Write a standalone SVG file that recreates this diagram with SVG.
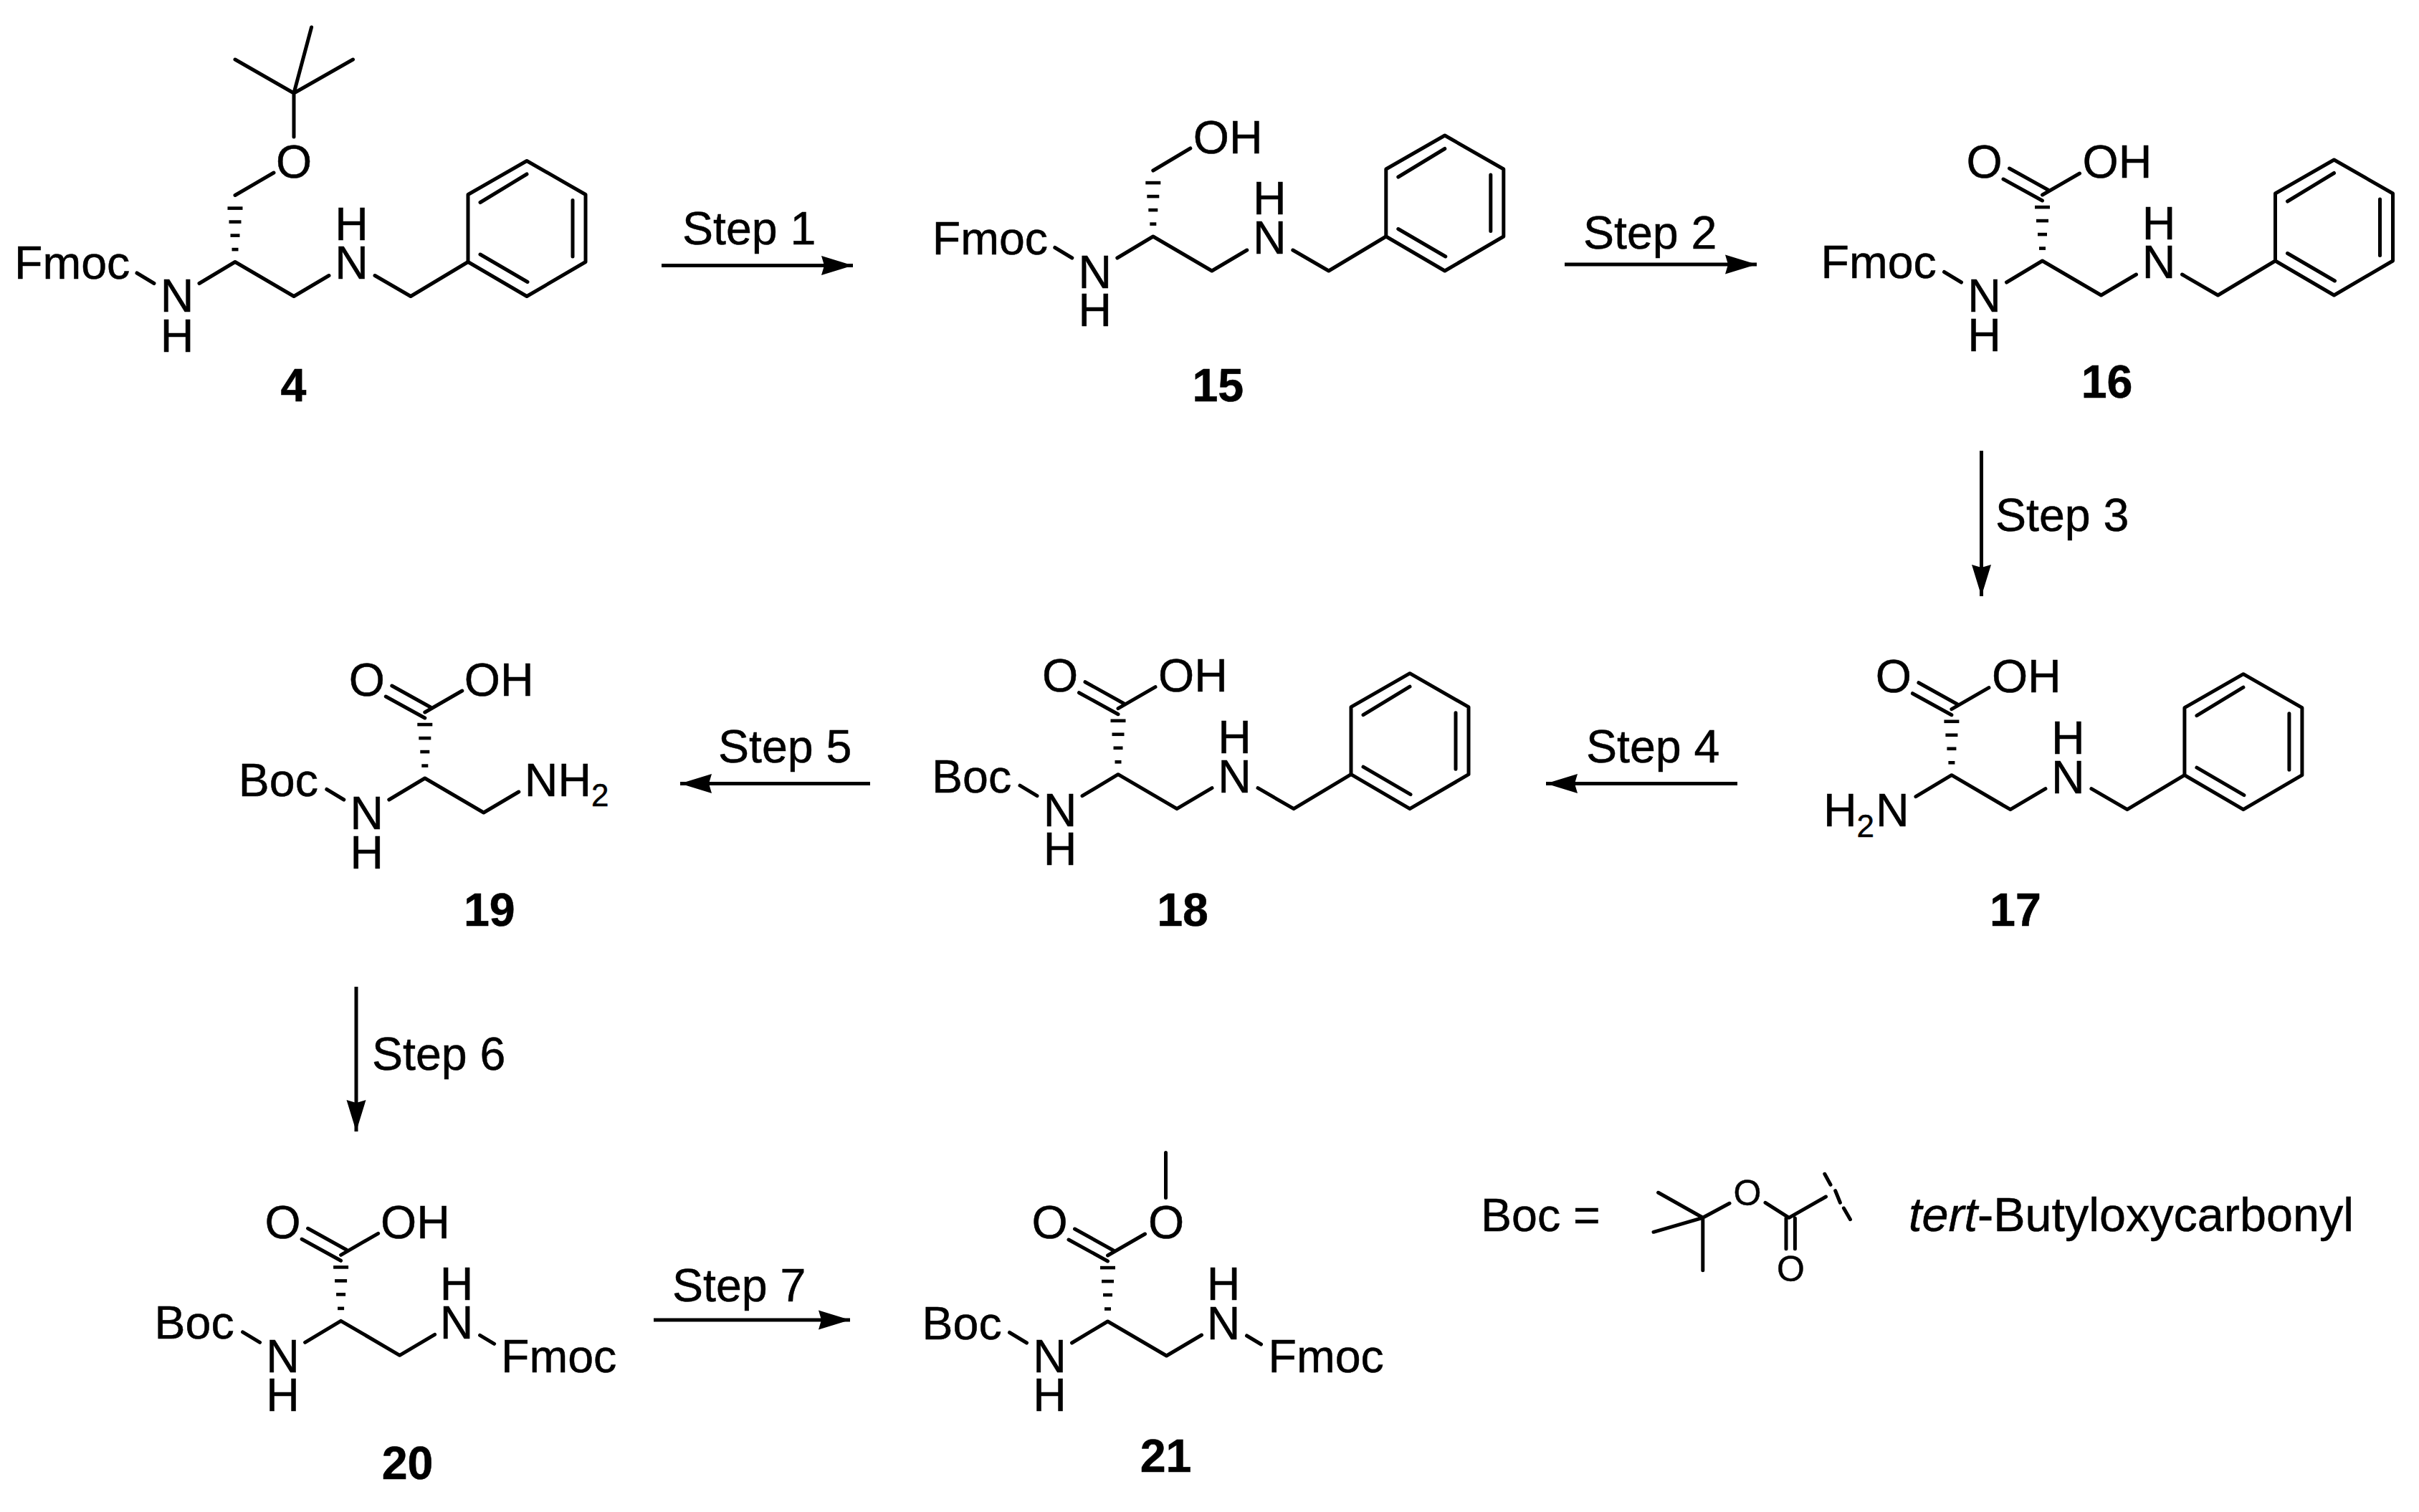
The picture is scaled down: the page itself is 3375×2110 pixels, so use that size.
<svg xmlns="http://www.w3.org/2000/svg" xmlns:xlink="http://www.w3.org/1999/xlink" width="3375" height="2110" viewBox="0 0 3375 2110">
<style>
text{font-family:"Liberation Sans",Arial,sans-serif;font-size:64.5px;fill:#000;stroke:#000;stroke-width:.5}
.m{text-anchor:middle}
.lab{font-weight:700;text-anchor:middle}
.b{fill:none;stroke:#000;stroke-width:5;stroke-linecap:round;stroke-linejoin:round}
.a{fill:none;stroke:#000;stroke-width:5}
.small{font-size:50px;text-anchor:middle}
</style>
<defs>
<marker id="head" markerUnits="userSpaceOnUse" markerWidth="45" markerHeight="30" refX="44" refY="15" orient="auto"><path d="M0,1.5 L44,15 L0,28.5 L4,15 Z" fill="#000"/></marker>
<g id="hash" fill="#000"><rect x="-10.5" y="-77.2" width="21" height="4.6"/><rect x="-8.5" y="-58.2" width="17" height="4.6"/><rect x="-6.5" y="-39.2" width="13" height="4.6"/><rect x="-4.5" y="-19.7" width="9" height="4.6"/></g>
<g id="core"><path class="b" d="M-50,30 L0,0 L82,48 L131,19"/><use xlink:href="#hash" href="#hash"/></g>
<g id="benzyl"><path class="b" d="M195,19 L245,48 L325,0"/><path class="b" d="M325,0 V-94 L407,-141 L489,-94 V0 L407,48 Z"/><path class="b" d="M342,-10.5 L408,28 M342,-83 L407,-122.5 M471,-86 V-7.5"/></g>
<path id="acid" class="b" d="M0,-92 L52,-122 M-54.5,-114 L0,-84 M-46,-129 L8,-99"/>
<path id="nbond" class="b" d="M-137,15.5 L-113,30"/>
<path id="fbond" class="b" d="M194,20 L214,32"/>
</defs>
<g id="connectors">
<line class="a" x1="923" y1="370.5" x2="1190" y2="370.5" marker-end="url(#head)"/>
<line class="a" x1="2183" y1="369" x2="2451" y2="369" marker-end="url(#head)"/>
<line class="a" x1="2764.5" y1="629" x2="2764.5" y2="832" marker-end="url(#head)"/>
<line class="a" x1="2424" y1="1093.5" x2="2157" y2="1093.5" marker-end="url(#head)"/>
<line class="a" x1="1214" y1="1093.5" x2="949" y2="1093.5" marker-end="url(#head)"/>
<line class="a" x1="497" y1="1377" x2="497" y2="1579" marker-end="url(#head)"/>
<line class="a" x1="912" y1="1842" x2="1186" y2="1842" marker-end="url(#head)"/>
<text x="952" y="341">Step 1</text>
<text x="2209" y="347">Step 2</text>
<text x="2784" y="741">Step 3</text>
<text x="2213" y="1064">Step 4</text>
<text x="1002" y="1064">Step 5</text>
<text x="519" y="1493">Step 6</text>
<text x="938" y="1816">Step 7</text>
</g>
<g id="mol-4" transform="translate(328,365.5)">
<use xlink:href="#core" href="#core"/><use xlink:href="#benzyl" href="#benzyl"/><use xlink:href="#nbond" href="#nbond"/>
<path class="b" d="M0,-93 L54,-124.5 M82,-174.5 V-235.5 L106.6,-327.5 M0,-282.5 L82,-235.5 L164.5,-282.5"/>
<text class="m" x="82" y="-117.5">O</text>
<text x="-308" y="23">Fmoc</text>
<text class="m" x="-81" y="69">N</text><text class="m" x="-81" y="125">H</text>
<text class="m" x="162.5" y="23">N</text><text class="m" x="162.5" y="-30.5">H</text>
<text class="lab" x="81.5" y="194">4</text>
</g>
<g id="mol-15" transform="translate(1608.8,330)">
<use xlink:href="#core" href="#core"/><use xlink:href="#benzyl" href="#benzyl"/><use xlink:href="#nbond" href="#nbond"/>
<path class="b" d="M0,-92 L52,-123"/>
<text x="56" y="-116.5">OH</text>
<text x="-308" y="25">Fmoc</text>
<text class="m" x="-81" y="71.5">N</text><text class="m" x="-81" y="125">H</text>
<text class="m" x="162.5" y="24">N</text><text class="m" x="162.5" y="-31">H</text>
<text class="lab" x="90.5" y="230">15</text>
</g>
<g id="mol-16" transform="translate(2849.5,364)">
<use xlink:href="#core" href="#core"/><use xlink:href="#benzyl" href="#benzyl"/><use xlink:href="#nbond" href="#nbond"/><use xlink:href="#acid" href="#acid"/>
<text class="m" x="-81" y="-116">O</text><text x="56" y="-116">OH</text>
<text x="-309" y="24">Fmoc</text>
<text class="m" x="-81" y="71">N</text><text class="m" x="-81" y="126">H</text>
<text class="m" x="162.5" y="24">N</text><text class="m" x="162.5" y="-30">H</text>
<text class="lab" x="90" y="191">16</text>
</g>
<g id="mol-17" transform="translate(2722.9,1081.7)">
<use xlink:href="#core" href="#core"/><use xlink:href="#benzyl" href="#benzyl"/><use xlink:href="#acid" href="#acid"/>
<text class="m" x="-81" y="-116">O</text><text x="56" y="-116">OH</text>
<text x="-179" y="71.5">H<tspan dy="15" style="font-size:44px">2</tspan><tspan dx="2" dy="-15">N</tspan></text>
<text class="m" x="162.5" y="25">N</text><text class="m" x="162.5" y="-30">H</text>
<text class="lab" x="89" y="210">17</text>
</g>
<g id="mol-18" transform="translate(1560,1080.7)">
<use xlink:href="#core" href="#core"/><use xlink:href="#benzyl" href="#benzyl"/><use xlink:href="#nbond" href="#nbond"/><use xlink:href="#acid" href="#acid"/>
<text class="m" x="-81" y="-116">O</text><text x="56" y="-116">OH</text>
<text x="-260" y="25">Boc</text>
<text class="m" x="-81" y="72">N</text><text class="m" x="-81" y="126">H</text>
<text class="m" x="162.5" y="25">N</text><text class="m" x="162.5" y="-30">H</text>
<text class="lab" x="90" y="211">18</text>
</g>
<g id="mol-19" transform="translate(592.8,1086)">
<use xlink:href="#core" href="#core"/><use xlink:href="#nbond" href="#nbond"/><use xlink:href="#acid" href="#acid"/>
<text class="m" x="-81" y="-115.5">O</text><text x="55" y="-115.5">OH</text>
<text x="-260" y="25">Boc</text>
<text class="m" x="-81" y="71">N</text><text class="m" x="-81" y="125.5">H</text>
<text x="139" y="25">NH<tspan dy="14" style="font-size:44px">2</tspan></text>
<text class="lab" x="90" y="205.5">19</text>
</g>
<g id="mol-20" transform="translate(475.6,1843.3)">
<use xlink:href="#core" href="#core"/><use xlink:href="#nbond" href="#nbond"/><use xlink:href="#acid" href="#acid"/><use xlink:href="#fbond" href="#fbond"/>
<text class="m" x="-81" y="-115.5">O</text><text x="55.5" y="-115.5">OH</text>
<text x="-260" y="25">Boc</text>
<text class="m" x="-81" y="71.5">N</text><text class="m" x="-81" y="125.5">H</text>
<text class="m" x="161.5" y="25">N</text><text class="m" x="161.5" y="-29.5">H</text>
<text x="223.5" y="71.5">Fmoc</text>
<text class="lab" x="93" y="220.5">20</text>
</g>
<g id="mol-21" transform="translate(1545.5,1844)">
<use xlink:href="#core" href="#core"/><use xlink:href="#nbond" href="#nbond"/><use xlink:href="#acid" href="#acid"/><use xlink:href="#fbond" href="#fbond"/>
<path class="b" d="M81,-172.5 V-235.5"/>
<text class="m" x="-81" y="-116">O</text><text class="m" x="81.5" y="-116">O</text>
<text x="-259" y="24.5">Boc</text>
<text class="m" x="-81" y="71">N</text><text class="m" x="-81" y="125">H</text>
<text class="m" x="161.5" y="24.5">N</text><text class="m" x="161.5" y="-30">H</text>
<text x="224" y="71">Fmoc</text>
<text class="lab" x="81" y="209.5">21</text>
</g>
<g id="boc-legend">
<text x="2066" y="1718">Boc =</text>
<path class="b" d="M2313.6,1664.3 L2375.8,1699.3 L2307,1719.3 M2375.8,1699.3 V1772.7 M2375.8,1699.3 L2413,1679.3 M2463,1678.3 L2496,1699.3 L2547.5,1670 M2492,1700 V1742.7 M2504.4,1700 V1742.7"/>
<path class="b" d="M2545.8,1638.3 L2554,1653.3 M2560.7,1661.7 L2567.4,1678.3 M2572.4,1686 L2581.5,1701.7"/>
<text class="small" x="2438" y="1682">O</text>
<text class="small" x="2498.5" y="1788">O</text>
<text x="2663" y="1718" style="font-size:66.5px"><tspan font-style="italic">tert</tspan>-Butyloxycarbonyl</text>
</g>
</svg>
